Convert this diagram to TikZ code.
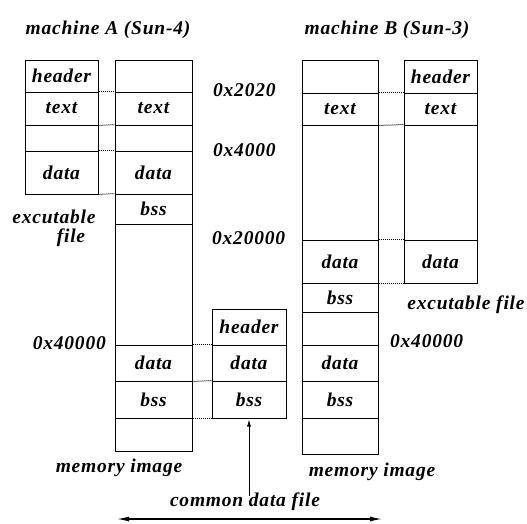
\documentclass[tikz,border=0pt]{standalone}
\usepackage{fontspec}
\usetikzlibrary{arrows.meta}
\newfontfamily\lblfont{Liberation Serif Bold Italic}[LetterSpace=4]
\begin{document}
\begin{tikzpicture}[x=1pt, y=-1pt,
    lbl/.style = {font=\lblfont\fontsize{19.5}{22}\selectfont, inner sep=0pt},
    cell/.style = {draw, line width=1pt, rectangle, inner sep=0pt, lbl},
    link/.style = {dash pattern=on 1pt off 1pt, line width=1pt}]
                    \useasboundingbox (0, 0) rectangle (527, 523);
                    % machine A, executable file
                    \node at (61.5, 76) [cell, minimum width = 73, minimum height = 32] (aHdr) {header};
                    \node at (61.5, 108.5) [cell, minimum width = 73, minimum height = 33] (aTxt) {text};
                    \node at (61.5, 138) [cell, minimum width = 73, minimum height = 26] (aGap) {};
                    \node at (61.5, 172.5) [cell, minimum width = 73, minimum height = 43] (aDat) {data};
                    % machine A, memory image
                    \node at (153.5, 76) [cell, minimum width = 77, minimum height = 32] (maTop) {};
                    \node at (153.5, 108.5) [cell, minimum width = 77, minimum height = 33] (maTxt) {text};
                    \node at (153.5, 138) [cell, minimum width = 77, minimum height = 26] (maGap) {};
                    \node at (153.5, 172.5) [cell, minimum width = 77, minimum height = 43] (maDat) {data};
                    \node at (153.5, 209) [cell, minimum width = 77, minimum height = 30] (maBss) {bss};
                    \node at (153.5, 284.5) [cell, minimum width = 77, minimum height = 121] (maMid) {};
                    \node at (153.5, 363) [cell, minimum width = 77, minimum height = 36] (maDat2) {data};
                    \node at (153.5, 399.5) [cell, minimum width = 77, minimum height = 37] (maBss2) {bss};
                    \node at (153.5, 434.5) [cell, minimum width = 77, minimum height = 33] (maEnd) {};
                    % common data file
                    \node at (249, 327) [cell, minimum width = 74, minimum height = 36] (cHdr) {header};
                    \node at (249, 363) [cell, minimum width = 74, minimum height = 36] (cDat) {data};
                    \node at (249, 399.5) [cell, minimum width = 74, minimum height = 37] (cBss) {bss};
                    % machine B, memory image
                    \node at (340, 76.5) [cell, minimum width = 76, minimum height = 33] (mbTop) {};
                    \node at (340, 109) [cell, minimum width = 76, minimum height = 32] (mbTxt) {text};
                    \node at (340, 182.5) [cell, minimum width = 76, minimum height = 115] (mbGap) {};
                    \node at (340, 261.5) [cell, minimum width = 76, minimum height = 43] (mbDat) {data};
                    \node at (340, 297.5) [cell, minimum width = 76, minimum height = 29] (mbBss) {bss};
                    \node at (340, 328.5) [cell, minimum width = 76, minimum height = 33] (mbMid) {};
                    \node at (340, 363) [cell, minimum width = 76, minimum height = 36] (mbDat2) {data};
                    \node at (340, 399.5) [cell, minimum width = 76, minimum height = 37] (mbBss2) {bss};
                    \node at (340, 436) [cell, minimum width = 76, minimum height = 36] (mbEnd) {};
                    % machine B, executable file
                    \node at (440.5, 76.5) [cell, minimum width = 73, minimum height = 33] (bHdr) {header};
                    \node at (440.5, 109) [cell, minimum width = 73, minimum height = 32] (bTxt) {text};
                    \node at (440.5, 182.5) [cell, minimum width = 73, minimum height = 115] (bGap) {};
                    \node at (440.5, 261.5) [cell, minimum width = 73, minimum height = 43] (bDat) {data};

                    % labels
                    \node at (108, 30) [lbl] (titleA) {machine A (Sun-4)};
                    \node at (387, 30) [lbl] (titleB) {machine B (Sun-3)};
                    \node at (213, 90) [lbl, anchor = west] (addr1) {0x2020};
                    \node at (213, 150) [lbl, anchor = west] (addr2) {0x4000};
                    \node at (212, 238) [lbl, anchor = west] (addr3) {0x20000};
                    \node at (106, 343) [lbl, anchor = east] (addrA) {0x40000};
                    \node at (390, 341) [lbl, anchor = west] (addrB) {0x40000};
                    \node at (54, 217) [lbl] (exeA1) {excutable};
                    \node at (71, 238) [lbl] (exeA2) {file};
                    \node at (466, 305) [lbl] (exeB) {excutable file};
                    \node at (119, 468) [lbl] (memA) {memory image};
                    \node at (372, 472) [lbl] (memB) {memory image};
                    \node at (245, 502) [lbl] (cLbl) {common data file};

                    % dotted section links
                    \draw [link] (aTxt.north east) -- (maTxt.north west);
                    \draw [link] (aTxt.south east) -- (maGap.north west);
                    \draw [link] (aDat.north east) -- (maDat.north west);
                    \draw [link] (aDat.south east) -- (maBss.north west);
                    \draw [link] (maDat2.north east) -- (cDat.north west);
                    \draw [link] (maDat2.south east) -- (cBss.north west);
                    \draw [link] (maBss2.south east) -- (cBss.south west);
                    \draw [link] (mbTxt.north east) -- (bTxt.north west);
                    \draw [link] (mbTxt.south east) -- (bGap.north west);
                    \draw [link] (mbDat.north east) -- (bDat.north west);
                    \draw [link] (mbDat.south east) -- (bDat.south west);

                    % arrows
                    \draw [-{Latex[length = 7pt, width = 4pt]}, line width = 0.8pt, shorten >= 1pt] ([yshift = -3pt]cLbl.north -| cBss.south) -- (cBss.south);
                    \coordinate (arrL) at (117, 519);
                    \coordinate (arrR) at (382, 519);
                    \draw [{Latex[length = 12pt, width = 5pt]}-{Latex[length = 12pt, width = 5pt]}, line width = 1.3pt] (arrL) -- (arrR);
                \end{tikzpicture}
\end{document}
